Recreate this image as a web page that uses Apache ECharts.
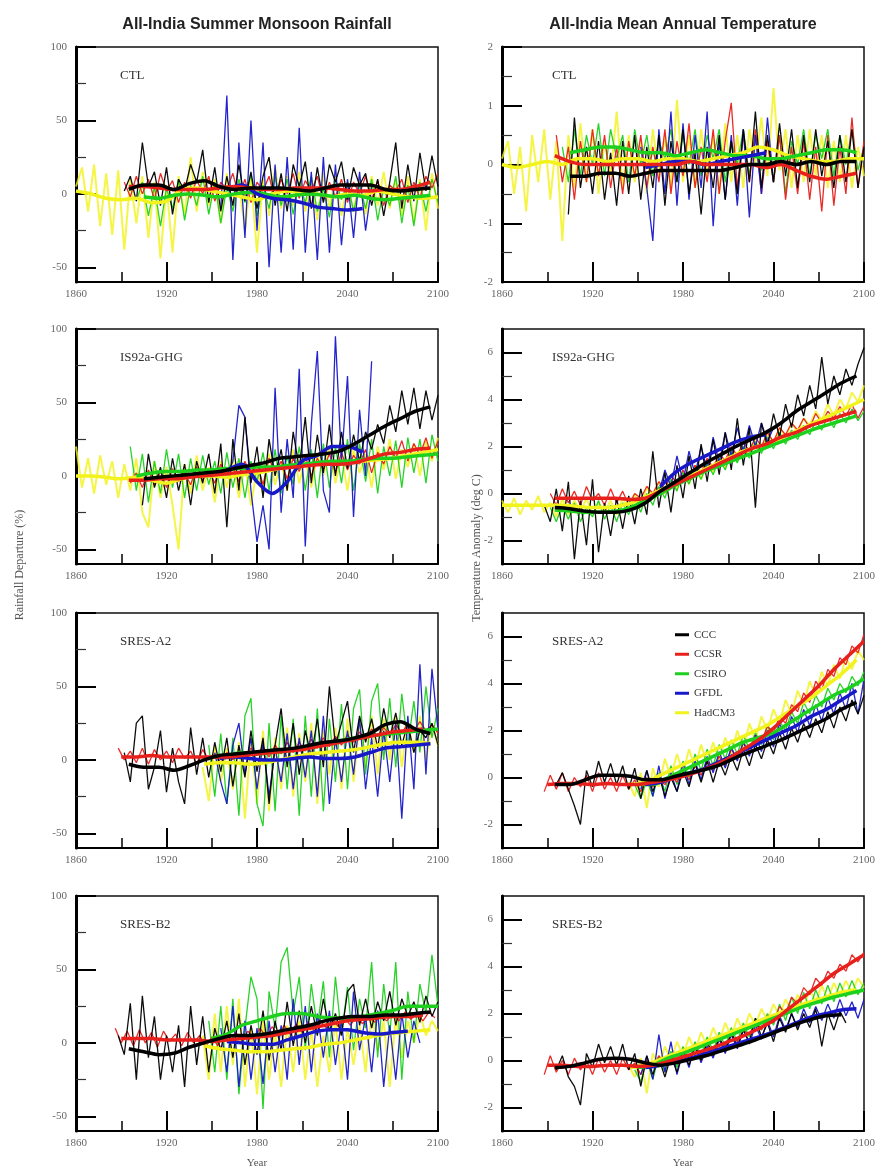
<!DOCTYPE html>
<html lang="en">
<head>
<meta charset="UTF-8">
<title>All-India rainfall and temperature scenarios</title>
<style>
    html, body {
        margin: 0;
        padding: 0;
        background: #fff;
    }
    #chart {
        width: 880px;
        height: 1169px;
    }
</style>
</head>
<body>
<div id="chart"></div>
<script src="https://cdn.jsdelivr.net/npm/echarts@6/dist/echarts.min.js"></script>
<script>
// model order: CCC, CCSR, CSIRO, GFDL, HadCM3
var models = ['CCC', 'CCSR', 'CSIRO', 'GFDL', 'HadCM3'];
var colors = ['#000000', '#e8201c', '#1ed01e', '#1818c8', '#f2f21c'];

var yearTicks = [1860, 1920, 1980, 2040, 2100];
var rainTicks = [-50, 0, 50, 100];
var rainMinorTicks = [-25, 25, 75];
var ctlTempTicks = [-2, -1, 0, 1, 2];
var ctlTempMinorTicks = [-1.5, -0.5, 0.5, 1.5];
var warmTempTicks = [-2, 0, 2, 4, 6];
var warmTempMinorTicks = [-1, 1, 3, 5];

// yearly values are read every 4 years, fitted curves every 10 years
var rawStep = 4;
var fitStep = 10;

// ---- CTL rainfall ----
var ctlRainStart = [1892, 1892, 1900, 1956, 1860];
var ctlRainCCC = [2, 12, -5, 35, 5, 15, -8, 18, -14, 10, 2, 20, 8, 30, -6, 18, -12, 12, -8, 20, -5, 15, -10, 12, 25, -8, 14, -12, 20, 5, 22, -10, 18, -6, 20, 8, 22, -4, 18, 6, 14, -8, 10, -15, 8, 35, -10, 20, -5, 28, 2, 26, 5];
var ctlRainCCSR = [8, -2, 12, 0, 10, -4, 14, 2, 9, -6, 8, -3, 10, 0, 12, -5, 8, 3, 14, -2, 10, -6, 8, 2, 12, -4, 10, 0, 14, -3, 9, 2, 12, -5, 8, -2, 10, -6, 8, 0, 12, -4, 9, -8, 6, 2, 10, -6, 8, -3, 12, 4, 14];
var ctlRainCSIRO = [-5, 8, -15, 5, -22, 4, -10, 10, -18, 6, -8, 12, -14, 8, -20, 5, -12, 10, -6, 14, -15, 6, -10, 12, -8, 10, -14, 8, -6, 12, -12, 4, -16, 10, -4, 8, -12, 6, -10, 10, -18, 4, -8, 12, -20, 6, -22, 8, -12, 10, -6];
var ctlRainGFDL = [-10, 67, -45, 35, -30, 50, -25, 35, -50, 20, -40, 25, -38, 45, -40, 15, -45, 25, -40, 20, -35, 10, -30, 15, -25, 5];
var ctlRainHadCM3 = [5, 18, -12, 20, -22, 14, -28, 16, -38, 10, -20, 12, -30, 8, -44, 6, -40, 12, -15, 25, -12, 15, -8, 10, -20, 14, -10, 8, -25, 12, -40, 10, -15, 18, -10, 12, -8, 15, -12, 10, -18, 14, -10, 12, -15, 8, -12, 10, -14, 12, -8, 15, -10, 10, -15, 12, -20, 10, -25, 14, -10];
var ctlRainFitStart = [1895, 1895, 1905, 1960, 1860];
var ctlRainCCCFit = [3, 6, 6, 3, 7, 9, 5, 3, 4, 4, 4, 3, 2, 4, 6, 6, 6, 3, 2, 3, 4];
var ctlRainCCSRFit = [5, 5, 4, 3, 3, 3, 4, 5, 4, 3, 3, 4, 4, 4, 3, 2, 2, 3, 3, 5, 8];
var ctlRainCSIROFit = [-2, -3, -1, 0, -1, -2, 0, 1, 0, -2, -1, 0, -1, -2, -1, -3, -4, -3, -2, -1];
var ctlRainGFDLFit = [3, 6, 0, -3, -4, -6, -9, -10, -11, -10];
var ctlRainHadCM3Fit = [2, 0, -3, -4, -3, -6, -5, 3, 4, 2, 0, -2, -4, 0, 2, 1, 0, -2, 0, -1, 2, 0, -2, -3, -2];

// ---- CTL temperature ----
var ctlTempStart = [1904, 1896, 1900, 1952, 1860];
var ctlTempCCC = [-0.85, 0.8, -0.4, 0.3, -0.5, 0.4, -0.6, 0.2, -0.7, 0.4, -0.5, 0.5, -0.6, 0.3, -0.4, 0.5, -0.7, 0.4, -0.3, 0.6, -0.5, 0.2, -0.85, 0.3, -0.4, 0.5, -0.6, 0.4, -0.5, 0.6, -0.3, 0.9, -0.4, 0.5, -0.3, 0.7, -0.2, 0.6, -0.4, 0.5, -0.3, 0.6, -0.2, 0.4, -0.4, 0.5, -0.3, 0.6, -0.4, 0.3];
var ctlTempCCSR = [0.5, -0.3, 0.3, -0.6, 0.4, -0.3, 0.6, -0.2, 0.5, -0.4, 0.3, -0.5, 0.4, -0.2, 0.5, -0.4, 0.3, -0.3, 0.6, -0.5, 0.4, -0.2, 0.7, -0.4, 0.3, -0.3, 0.6, -0.5, 0.4, 1.05, -0.4, 0.5, -0.3, 0.6, -0.5, 0.4, -0.3, 0.5, -0.6, 0.3, -0.5, 0.4, -0.6, 0.3, -0.8, 0.5, -0.7, 0.3, -0.5, 0.8, -0.4, 0.4];
var ctlTempCSIRO = [0.3, -0.3, 0.6, -0.2, 0.5, 0.0, 0.7, -0.2, 0.6, 0.1, 0.5, -0.3, 0.6, 0.0, 0.5, -0.2, 0.4, 0.1, 0.6, -0.3, 0.5, 0.0, 0.6, -0.2, 0.5, 0.1, 0.6, -0.3, 0.4, 0.0, 0.6, -0.2, 0.5, -0.1, 0.4, -0.3, 0.5, -0.5, 0.4, 0.0, 0.6, -0.2, 0.5, 0.1, 0.6, -0.2, 0.5, 0.0, 0.6, -0.1, 0.3];
var ctlTempGFDL = [0.3, -0.4, -1.3, 0.6, -0.5, 0.9, -0.7, 0.7, -0.6, 0.5, -0.4, 0.9, -1.05, 0.4, -0.6, 0.5, -0.7, 0.6, -0.9, 0.5, -0.5, 0.8, -0.3];
var ctlTempHadCM3 = [0.1, 0.4, -0.5, 0.3, -0.8, 0.5, -0.3, 0.6, -0.6, 0.4, -1.3, 0.5, -0.4, 0.7, -0.3, 0.6, -0.5, 0.4, -0.2, 0.9, -0.4, 0.5, -0.3, 0.4, -0.5, 0.6, -0.2, 0.5, -0.4, 1.1, -0.3, 0.5, -0.4, 0.6, -0.2, 0.5, -0.5, 0.7, -0.3, 0.5, -0.4, 0.6, 0.0, 0.8, -0.2, 1.3, -0.1, 0.6, -0.4, 0.5, -0.3, 0.6, -0.2, 0.5, -0.4, 0.4, -0.3, 0.5, -0.4, 0.3, -0.2];
var ctlTempFitStart = [1905, 1895, 1905, 1955, 1860];
var ctlTempCCCFit = [-0.2, -0.2, -0.15, -0.15, -0.2, -0.15, -0.1, -0.1, -0.1, -0.1, -0.1, -0.05, 0.0, 0.0, 0.05, 0.0, 0.05, 0.0, 0.05, 0.05];
var ctlTempCCSRFit = [0.15, 0.05, 0, 0, 0, 0, 0, 0, 0, 0.05, 0, 0, 0, 0, -0.05, 0, -0.1, -0.2, -0.25, -0.2, -0.15];
var ctlTempCSIROFit = [0.2, 0.25, 0.3, 0.3, 0.25, 0.2, 0.2, 0.15, 0.2, 0.25, 0.2, 0.15, 0.15, 0.1, 0.1, 0.15, 0.2, 0.25, 0.25, 0.2];
var ctlTempGFDLFit = [-0.05, 0, 0.05, 0.05, 0, 0.05, 0.1, 0.15, 0.2];
var ctlTempHadCM3Fit = [0, -0.05, 0, 0.05, 0, 0.1, 0.1, 0.05, 0.1, 0.1, 0.05, 0.1, 0.1, 0.05, 0.1, 0.15, 0.2, 0.3, 0.25, 0.15, 0.1, 0.05, 0.05, 0.1, 0.1];

// ---- IS92a-GHG rainfall ----
var ghgRainStart = [1904, 1896, 1896, 1960, 1860];
var ghgRainCCC = [-20, 15, -8, 6, -15, 12, -10, 8, -20, 10, -5, 15, -12, 22, -35, 25, -10, 40, -5, 20, -15, 25, 0, 18, -10, 30, 5, 40, -5, 28, 2, 35, 0, 30, 5, 28, 10, 30, 18, 35, 22, 48, 30, 58, 35, 60, 32, 58, 38, 55];
var ghgRainCCSR = [-5, 2, -8, 4, -6, 3, -8, 5, -4, 2, -6, 6, -3, 4, -5, 8, -2, 6, -4, 10, 0, 8, -6, 12, 2, 10, -2, 12, 3, 14, 0, 12, 4, 15, 2, 16, 4, 14, 8, 18, 2, 16, 8, 20, 12, 24, 10, 22, 14, 26, 12, 24];
var ghgRainCSIRO = [20, -10, 15, -18, 10, -12, 18, -8, 15, -15, 12, -10, 14, -6, 10, -12, 16, -8, 12, -15, 10, -4, 16, -10, 18, -12, 14, -6, 20, -10, 18, -15, 22, -8, 20, -5, 25, -10, 22, -4, 25, -12, 20, 0, 24, -8, 26, 2, 25, -5, 28, 10];
var ghgRainGFDL = [0, 10, 48, 40, -10, -45, -20, -50, 60, -25, 25, -15, 73, -48, 35, 85, -10, -25, 95, 10, 68, -28, 45, 0, 78];
var ghgRainHadCM3 = [20, -8, 12, -12, 14, -6, 10, -15, 8, -10, 12, -25, -35, 10, -15, 6, -20, -50, 8, -12, 14, -10, 6, -18, 10, -8, 12, -15, 8, -20, 5, -12, 15, -6, 10, -10, 18, -5, 12, -8, 15, 0, 20, -5, 14, -10, 18, 2, 15, -8, 20, 4, 25, -2, 18, 6, 22, 0, 24, 10, 26];
var ghgRainFitStart = [1905, 1895, 1900, 1960, 1860];
var ghgRainCCCFit = [-2, -1, 0, 1, 2, 3, 5, 7, 9, 12, 13, 14, 15, 17, 22, 28, 34, 39, 44, 47];
var ghgRainCCSRFit = [-3, -3, -2, -2, -1, 0, 1, 2, 3, 4, 5, 6, 7, 8, 8, 9, 12, 15, 16, 18, 19];
var ghgRainCSIROFit = [0, 2, 3, 3, 4, 4, 5, 5, 6, 6, 7, 8, 9, 10, 10, 11, 12, 12, 13, 14, 15];
var ghgRainGFDLFit = [4, 8, -4, -12, -4, 10, 14, 20, 20, 16];
var ghgRainHadCM3Fit = [0, 0, -1, -2, -1, -3, -5, -2, 0, 0, -1, 1, 2, 4, 6, 7, 8, 9, 9, 10, 11, 12, 14, 16, 18];

// ---- IS92a-GHG temperature ----
var ghgTempStart = [1888, 1892, 1892, 1964, 1860];
var ghgTempCCC = [-0.5, -1.2, 0.2, -1.6, 0.5, -2.8, -0.3, -2.2, 0.6, -2.5, -0.4, -1.8, -0.2, -1.5, -0.1, -1.3, 0.2, -0.9, 1.8, -0.6, 0.9, -0.8, 1.2, -0.2, 1.6, 0.2, 2.1, 0.5, 2.3, 0.8, 2.6, 1.0, 3.2, 1.2, 2.8, -0.6, 3.0, 2.0, 3.4, 2.4, 3.8, 2.8, 4.2, 3.3, 4.6, 3.6, 5.8, 3.8, 5.0, 4.2, 5.3, 4.6, 5.5, 6.2];
var ghgTempCCSR = [0.0, -0.5, 0.2, -0.4, 0.1, -0.5, 0.3, -0.3, 0.0, -0.5, 0.2, -0.4, 0.1, -0.5, 0.0, -0.2, 0.3, 0.0, 0.5, 0.2, 0.8, 0.4, 1.0, 0.6, 1.2, 0.9, 1.5, 1.1, 1.7, 1.4, 2.0, 1.6, 2.2, 1.8, 2.4, 2.0, 2.6, 2.2, 2.8, 2.5, 3.0, 2.7, 3.2, 2.8, 3.4, 3.0, 3.5, 3.2, 3.7, 3.3, 3.8, 3.2, 3.7];
var ghgTempCSIRO = [-0.6, -1.2, -0.5, -1.1, -0.4, -1.2, -0.6, -1.0, -0.3, -1.1, -0.5, -1.2, -0.4, -0.9, -0.2, -0.8, 0.0, -0.5, 0.3, -0.2, 0.6, 0.1, 0.9, 0.4, 1.1, 0.6, 1.3, 0.8, 1.5, 1.0, 1.8, 1.3, 2.0, 1.5, 2.2, 1.7, 2.4, 1.9, 2.6, 2.1, 2.7, 2.3, 2.9, 2.5, 3.1, 2.7, 3.3, 2.8, 3.4, 3.0, 3.6, 3.1, 3.5];
var ghgTempGFDL = [0.0, 1.0, 0.3, 1.6, 0.5, 1.8, 0.8, 2.0, 1.0, 2.4, 1.3, 2.6, 1.6, 2.8, 1.8, 2.9, 2.0, 3.0, 2.2, 2.8];
var ghgTempHadCM3 = [-0.3, -0.8, -0.2, -0.9, -0.3, -0.7, -0.1, -0.8, -0.4, -1.0, -0.2, -0.9, -0.3, -0.8, -0.2, -0.9, -0.4, -0.8, -0.3, -0.9, -0.2, -0.7, 0.0, -0.6, 0.3, -0.2, 0.5, 0.0, 0.6, 0.2, 0.9, 0.4, 1.2, 0.6, 1.3, 0.9, 1.6, 1.1, 1.8, 1.4, 2.0, 1.6, 2.3, 1.8, 2.5, 2.1, 2.8, 2.4, 3.0, 2.6, 3.2, 2.9, 3.5, 3.1, 3.8, 3.3, 4.0, 3.6, 4.3, 3.9, 4.6];
var ghgTempFitStart = [1895, 1895, 1895, 1965, 1860];
var ghgTempCCCFit = [-0.6, -0.65, -0.75, -0.8, -0.8, -0.7, -0.4, 0.1, 0.5, 0.9, 1.3, 1.65, 2.0, 2.3, 2.6, 3.0, 3.5, 3.9, 4.3, 4.7, 5.0];
var ghgTempCCSRFit = [-0.2, -0.2, -0.2, -0.2, -0.2, -0.25, -0.2, 0.1, 0.4, 0.7, 1.0, 1.3, 1.6, 1.9, 2.1, 2.4, 2.6, 2.9, 3.1, 3.3, 3.5];
var ghgTempCSIROFit = [-0.7, -0.75, -0.8, -0.8, -0.75, -0.6, -0.3, 0.0, 0.35, 0.65, 0.95, 1.2, 1.45, 1.7, 1.95, 2.2, 2.45, 2.7, 2.9, 3.1, 3.3];
var ghgTempGFDLFit = [0.3, 0.9, 1.3, 1.6, 1.9, 2.2, 2.4, 2.5];
var ghgTempHadCM3Fit = [-0.5, -0.5, -0.5, -0.5, -0.5, -0.55, -0.6, -0.6, -0.5, -0.3, 0.0, 0.3, 0.6, 0.9, 1.2, 1.5, 1.8, 2.0, 2.2, 2.5, 2.8, 3.1, 3.4, 3.7, 4.0];

// ---- SRES-A2 rainfall ----
var a2RainStart = [1892, 1888, 1948, 1952, 1944];
var a2RainCCC = [5, -15, 25, 30, -20, -5, 20, -22, 8, -15, -30, 22, -10, 15, -12, 12, -8, 15, -18, 10, -12, 20, -8, 15, -30, 10, 35, -5, 25, -10, 20, 2, 28, -5, 50, 10, 25, 40, 5, 30, 12, 28, 8, 35, 15, 32, 10, 25, 5, 20, 15, 25, 10];
var a2RainCCSR = [8, 0, 6, -2, 8, -3, 7, 0, 6, -2, 8, 1, 6, -3, 7, 0, 4, -2, 5, 0, 6, 2, 8, 3, 9, 2, 10, 4, 12, 5, 12, 6, 14, 8, 15, 9, 16, 10, 17, 12, 19, 14, 21, 16, 22, 17, 24, 18, 25, 20, 26, 20, 24, 18];
var a2RainCSIRO = [10, -25, 18, -30, 15, -38, 30, 42, -30, -45, 25, -35, 30, -20, 28, -38, 30, -25, 35, -35, 28, -15, 38, -20, 35, 48, -10, 40, 52, 0, 42, -5, 45, 10, 40, 5, 50, 15, 35];
var a2RainGFDL = [5, -15, -30, 10, 25, -10, 15, -20, 12, -25, 8, -15, 18, -20, 15, -12, 20, -25, 30, -30, 15, -15, 20, -10, 28, -20, 15, -25, 20, -15, 25, -40, 30, -20, 65, -10, 62, 20];
var a2RainHadCM3 = [-5, -28, 10, -15, 8, -20, 12, -40, 15, -30, 20, -35, 15, -20, 22, -25, 18, -15, 25, -30, 20, -10, 22, -20, 28, -15, 25, -5, 30, -10, 28, 0, 30, -5, 25, 5, 30, 0, 25, 10];
var a2RainFitStart = [1895, 1890, 1950, 1955, 1945];
var a2RainCCCFit = [-3, -5, -5, -7, -4, 0, 3, 4, 5, 6, 7, 8, 10, 12, 13, 15, 18, 24, 26, 21, 18];
var a2RainCCSRFit = [2, 2, 3, 2, 2, 2, 2, 2, 3, 4, 5, 6, 7, 9, 11, 13, 15, 17, 19, 20, 21];
var a2RainCSIROFit = [2, 3, 5, 4, 5, 6, 8, 10, 12, 14, 16, 17, 18, 19, 20, 21];
var a2RainGFDLFit = [1, 2, 1, 0, 0, 1, 2, 1, 1, 2, 5, 8, 9, 10, 11];
var a2RainHadCM3Fit = [-3, -2, -2, -3, -2, 0, 2, 4, 5, 6, 7, 9, 11, 12, 12, 11];

// ---- SRES-A2 temperature ----
var a2TempStart = [1896, 1888, 1948, 1952, 1944];
var a2TempCCC = [-0.3, 0.2, -0.5, -1.2, -2.0, 0.3, -0.4, 0.7, -0.2, 0.6, -0.3, 0.5, -0.5, 0.4, -0.9, 0.3, -0.6, 0.1, -0.8, 0.0, -0.6, 0.3, -0.4, 0.6, -0.2, 0.7, -0.2, 0.7, 0.1, 0.9, 0.3, 1.2, 0.5, 1.4, 0.8, 1.6, 1.0, 1.9, 1.2, 2.1, 1.5, 2.3, 1.7, 2.5, 1.9, 2.8, 2.1, 3.0, 2.4, 3.3, 2.7, 3.5];
var a2TempCCSR = [-0.6, 0.1, -0.5, 0.2, -0.6, 0.0, -0.4, 0.1, -0.6, 0.2, -0.5, 0.0, -0.6, 0.1, -0.5, -0.1, -0.6, 0.0, -0.4, -0.1, -0.3, 0.1, -0.2, 0.3, -0.1, 0.5, 0.1, 0.7, 0.3, 0.9, 0.5, 1.2, 0.8, 1.5, 1.1, 1.8, 1.5, 2.2, 1.9, 2.6, 2.3, 3.1, 2.8, 3.6, 3.2, 4.1, 3.7, 4.6, 4.3, 5.1, 4.8, 5.6, 5.3, 6.1];
var a2TempCSIRO = [-0.3, -0.9, -0.1, -0.8, 0.2, -0.6, 0.5, -0.3, 0.7, 0.0, 1.0, 0.3, 1.2, 0.5, 1.4, 0.8, 1.6, 1.0, 1.8, 1.2, 1.9, 1.4, 2.2, 1.6, 2.4, 2.0, 2.8, 2.3, 3.2, 2.7, 3.5, 3.0, 3.8, 3.3, 4.0, 3.6, 4.3, 3.9, 4.5];
var a2TempGFDL = [-0.5, 0.3, -0.8, 0.5, -0.9, 0.2, -0.6, 0.6, -0.3, 0.7, -0.1, 0.9, 0.2, 1.1, 0.4, 1.3, 0.7, 1.5, 0.9, 1.8, 1.1, 2.0, 1.3, 2.3, 1.6, 2.6, 1.9, 2.9, 2.2, 3.1, 2.4, 3.4, 2.7, 3.6, 2.9, 4.0, 2.7, 4.2];
var a2TempHadCM3 = [-0.2, -0.8, 0.2, -1.3, 0.4, -0.4, 0.8, 0.0, 1.0, 0.2, 1.2, 0.4, 1.4, 0.6, 1.5, 0.7, 1.7, 1.0, 2.0, 1.2, 2.3, 1.6, 2.6, 2.0, 2.9, 2.3, 3.3, 2.7, 3.7, 3.1, 4.1, 3.5, 4.5, 3.9, 4.8, 4.2, 5.1, 4.6, 5.4, 5.0];
var a2TempFitStart = [1895, 1890, 1950, 1955, 1945];
var a2TempCCCFit = [-0.3, -0.3, -0.1, 0.1, 0.1, 0.05, -0.1, -0.1, 0.05, 0.2, 0.35, 0.55, 0.85, 1.1, 1.35, 1.6, 1.9, 2.2, 2.5, 2.9, 3.2];
var a2TempCCSRFit = [-0.3, -0.25, -0.25, -0.3, -0.25, -0.3, -0.3, -0.2, -0.1, 0.05, 0.25, 0.5, 0.8, 1.2, 1.6, 2.1, 2.7, 3.3, 3.9, 4.6, 5.2, 5.8];
var a2TempCSIROFit = [-0.3, -0.3, 0.0, 0.3, 0.6, 0.9, 1.2, 1.5, 1.7, 1.9, 2.3, 2.7, 3.1, 3.5, 3.8, 4.2];
var a2TempGFDLFit = [-0.3, -0.2, 0.0, 0.2, 0.4, 0.7, 1.0, 1.3, 1.6, 1.9, 2.2, 2.6, 2.9, 3.3, 3.7];
var a2TempHadCM3Fit = [-0.3, -0.2, 0.1, 0.4, 0.7, 1.0, 1.3, 1.6, 1.9, 2.2, 2.6, 3.0, 3.4, 3.9, 4.4, 5.0];

// ---- SRES-B2 rainfall ----
var b2RainStart = [1888, 1886, 1948, 1956, 1944];
var b2RainCCC = [5, -8, 27, -25, 32, -10, 18, -25, 5, -20, 12, -30, 25, -15, 18, -20, 10, -5, 15, -10, 20, -15, 12, -8, 22, -12, 15, -5, 28, -2, 22, 0, 25, 5, 30, 8, 20, 5, 35, 40, 12, 30, 10, 28, 15, 35, 12, 30, 18, 28, 14, 32, 18, 28];
var b2RainCCSR = [10, 0, 8, -2, 9, 0, 7, -3, 8, 1, 6, -2, 7, 0, 5, -3, 4, -2, 6, 0, 7, 2, 8, 3, 10, 4, 11, 5, 12, 6, 13, 7, 14, 8, 15, 10, 16, 11, 17, 12, 18, 13, 18, 14, 19, 15, 20, 15, 21, 16, 20, 15, 21, 17];
var b2RainCSIRO = [15, -20, 25, -25, 30, -35, 10, 45, 30, -45, 35, 10, 55, 65, 20, 45, -5, 40, 10, 42, -10, 45, 5, 38, -5, 30, 10, 55, -10, 40, 5, 55, -25, 35, 0, 40, 20, 60, 25];
var b2RainGFDL = [10, -20, 25, -30, 15, -25, 10, -28, 15, -20, 12, -25, 30, -15, 25, -20, 20, -10, 22, -15, 15, -25, 35, -5, 18, -20, 22, -30, 12, -25, 20, -10, 15, 0];
var b2RainHadCM3 = [5, -25, 20, -20, 25, -15, 30, -30, 10, -35, 15, -25, 8, -30, 12, -20, 15, -25, 10, -30, 5, -20, 15, -25, 10, -15, 12, -20, 20, -5, 15, -30, 18, -10, 15, 0, 20, 5, 15, 8];
var b2RainFitStart = [1895, 1890, 1950, 1960, 1945];
var b2RainCCCFit = [-4, -6, -8, -7, -3, 0, 3, 5, 5, 6, 8, 10, 12, 15, 17, 18, 18, 19, 19, 20, 21];
var b2RainCCSRFit = [3, 3, 3, 2, 2, 2, 1, 2, 3, 4, 5, 7, 9, 11, 13, 15, 16, 17, 18, 18, 19];
var b2RainCSIROFit = [3, 6, 12, 15, 18, 20, 20, 18, 17, 17, 18, 20, 22, 25, 25, 25];
var b2RainGFDLFit = [1, 0, -1, -1, 2, 5, 8, 9, 9, 7, 6, 7, 8];
var b2RainHadCM3Fit = [-2, -4, -5, -6, -6, -5, -4, -3, -1, 0, 2, 4, 6, 7, 8, 9];

// ---- SRES-B2 temperature ----
var b2TempStart = [1896, 1888, 1948, 1952, 1944];
var b2TempCCC = [-0.4, 0.2, -0.7, -1.1, -1.9, 0.3, -0.3, 0.7, -0.1, 0.6, -0.2, 0.7, -0.4, 0.3, -1.1, 0.2, -0.6, 0.1, -0.7, 0.2, -0.5, 0.4, -0.2, 0.6, 0.0, 0.8, 0.2, 1.0, 0.4, 1.2, 0.6, 1.3, 0.8, 1.8, 1.0, 1.6, 0.8, 1.8, 1.2, 2.0, 1.3, 2.0, 1.4, 2.2, 0.6, 2.0, 1.3, 2.1, 1.6];
var b2TempCCSR = [-0.6, 0.2, -0.5, 0.0, -0.6, 0.1, -0.4, 0.0, -0.6, 0.1, -0.5, 0.0, -0.6, 0.1, -0.4, -0.1, -0.6, 0.0, -0.3, 0.2, -0.1, 0.2, -0.1, 0.4, 0.1, 0.5, 0.2, 0.7, 0.4, 0.9, 0.6, 1.1, 0.8, 1.3, 1.1, 1.6, 1.3, 1.9, 1.6, 2.3, 2.0, 2.7, 2.4, 3.1, 2.8, 3.5, 3.2, 3.8, 3.5, 4.1, 3.8, 4.5, 4.2, 4.6];
var b2TempCSIRO = [-0.4, -0.9, 0.0, -0.8, 0.2, -0.5, 0.4, -0.3, 0.6, 0.0, 0.8, 0.2, 1.0, 0.4, 1.2, 0.6, 1.4, 0.8, 1.6, 1.0, 1.8, 1.3, 2.0, 1.5, 2.4, 1.7, 2.7, 2.0, 2.9, 2.2, 3.0, 2.4, 3.2, 2.5, 3.3, 2.7, 3.4, 2.8, 3.3];
var b2TempGFDL = [-0.6, 0.2, -0.8, 1.1, -0.5, 0.8, -0.6, 0.4, -0.3, 0.7, -0.1, 0.6, 0.1, 0.9, 0.3, 1.1, 0.5, 1.3, 0.7, 1.5, 0.9, 1.7, 1.0, 1.9, 1.3, 2.0, 1.4, 2.2, 1.6, 2.3, 1.7, 2.4, 1.8, 2.6, 1.9, 2.5, 1.8, 2.6];
var b2TempHadCM3 = [-0.2, -0.7, 0.1, -1.4, 0.3, -0.3, 0.6, 0.0, 0.8, 0.2, 1.0, 0.4, 1.2, 0.6, 1.4, 0.8, 1.6, 1.0, 1.8, 1.2, 2.0, 1.5, 2.2, 1.7, 2.4, 1.9, 2.6, 2.1, 2.8, 2.3, 3.0, 2.5, 3.2, 2.6, 3.3, 2.8, 3.4, 2.9, 3.5, 3.1];
var b2TempFitStart = [1895, 1890, 1950, 1955, 1945];
var b2TempCCCFit = [-0.3, -0.25, -0.1, 0.05, 0.1, 0.05, -0.1, -0.2, -0.1, 0.05, 0.2, 0.4, 0.6, 0.8, 1.05, 1.3, 1.55, 1.75, 1.9, 1.95];
var b2TempCCSRFit = [-0.2, -0.2, -0.25, -0.25, -0.2, -0.2, -0.25, -0.2, -0.05, 0.15, 0.35, 0.55, 0.8, 1.05, 1.35, 1.7, 2.2, 2.7, 3.2, 3.7, 4.1, 4.5];
var b2TempCSIROFit = [-0.3, -0.2, 0.1, 0.3, 0.55, 0.8, 1.05, 1.3, 1.55, 1.8, 2.05, 2.3, 2.5, 2.7, 2.85, 3.0];
var b2TempGFDLFit = [-0.3, -0.2, -0.05, 0.1, 0.3, 0.5, 0.7, 0.9, 1.1, 1.35, 1.6, 1.85, 2.0, 2.15, 2.2];
var b2TempHadCM3Fit = [-0.3, -0.2, 0.05, 0.3, 0.55, 0.8, 1.05, 1.3, 1.55, 1.8, 2.05, 2.3, 2.5, 2.7, 2.9, 3.0];

var panels = [
    {label: 'CTL', kind: 'rain', col: 0, row: 0, start: ctlRainStart, fitStart: ctlRainFitStart,
        raw: [ctlRainCCC, ctlRainCCSR, ctlRainCSIRO, ctlRainGFDL, ctlRainHadCM3],
        fit: [ctlRainCCCFit, ctlRainCCSRFit, ctlRainCSIROFit, ctlRainGFDLFit, ctlRainHadCM3Fit]},
    {label: 'CTL', kind: 'ctlTemp', col: 1, row: 0, start: ctlTempStart, fitStart: ctlTempFitStart,
        raw: [ctlTempCCC, ctlTempCCSR, ctlTempCSIRO, ctlTempGFDL, ctlTempHadCM3],
        fit: [ctlTempCCCFit, ctlTempCCSRFit, ctlTempCSIROFit, ctlTempGFDLFit, ctlTempHadCM3Fit]},
    {label: 'IS92a-GHG', kind: 'rain', col: 0, row: 1, start: ghgRainStart, fitStart: ghgRainFitStart,
        raw: [ghgRainCCC, ghgRainCCSR, ghgRainCSIRO, ghgRainGFDL, ghgRainHadCM3],
        fit: [ghgRainCCCFit, ghgRainCCSRFit, ghgRainCSIROFit, ghgRainGFDLFit, ghgRainHadCM3Fit]},
    {label: 'IS92a-GHG', kind: 'temp', col: 1, row: 1, start: ghgTempStart, fitStart: ghgTempFitStart,
        raw: [ghgTempCCC, ghgTempCCSR, ghgTempCSIRO, ghgTempGFDL, ghgTempHadCM3],
        fit: [ghgTempCCCFit, ghgTempCCSRFit, ghgTempCSIROFit, ghgTempGFDLFit, ghgTempHadCM3Fit]},
    {label: 'SRES-A2', kind: 'rain', col: 0, row: 2, start: a2RainStart, fitStart: a2RainFitStart,
        raw: [a2RainCCC, a2RainCCSR, a2RainCSIRO, a2RainGFDL, a2RainHadCM3],
        fit: [a2RainCCCFit, a2RainCCSRFit, a2RainCSIROFit, a2RainGFDLFit, a2RainHadCM3Fit]},
    {label: 'SRES-A2', kind: 'temp', col: 1, row: 2, start: a2TempStart, fitStart: a2TempFitStart,
        raw: [a2TempCCC, a2TempCCSR, a2TempCSIRO, a2TempGFDL, a2TempHadCM3],
        fit: [a2TempCCCFit, a2TempCCSRFit, a2TempCSIROFit, a2TempGFDLFit, a2TempHadCM3Fit]},
    {label: 'SRES-B2', kind: 'rain', col: 0, row: 3, start: b2RainStart, fitStart: b2RainFitStart,
        raw: [b2RainCCC, b2RainCCSR, b2RainCSIRO, b2RainGFDL, b2RainHadCM3],
        fit: [b2RainCCCFit, b2RainCCSRFit, b2RainCSIROFit, b2RainGFDLFit, b2RainHadCM3Fit]},
    {label: 'SRES-B2', kind: 'temp', col: 1, row: 3, start: b2TempStart, fitStart: b2TempFitStart,
        raw: [b2TempCCC, b2TempCCSR, b2TempCSIRO, b2TempGFDL, b2TempHadCM3],
        fit: [b2TempCCCFit, b2TempCCSRFit, b2TempCSIROFit, b2TempGFDLFit, b2TempHadCM3Fit]}
];

var axisKinds = {
    rain: {min: -60, max: 100, major: rainTicks, minor: rainMinorTicks},
    ctlTemp: {min: -2, max: 2, major: ctlTempTicks, minor: ctlTempMinorTicks},
    temp: {min: -3, max: 7, major: warmTempTicks, minor: warmTempMinorTicks}
};

// layout of the 4 x 2 panels
var colLeft = [76, 502];
var rowTop = [47, 329, 613, 896];
var plotW = 362;
var plotH = 235;
var serif = "'Liberation Serif', 'DejaVu Serif', serif";

function pairs(start, step, values) {
    return values.map(function (v, i) {
        return [start + i * step, v];
    });
}

var grids = [], xAxes = [], yAxes = [], series = [], graphics = [];
var rawOrder = [4, 2, 1, 3, 0];
var fitOrder = [4, 2, 3, 1, 0];

panels.forEach(function (p, g) {
    var ax = axisKinds[p.kind];
    grids.push({
        left: colLeft[p.col], top: rowTop[p.row], width: plotW, height: plotH,
        show: true, borderColor: '#111', borderWidth: 1.5
    });
    xAxes.push({
        gridIndex: g, type: 'value', min: 1860, max: 2100, interval: 60,
        axisLine: {onZero: false, lineStyle: {color: '#000', width: 2}},
        axisTick: {inside: true, length: 20, lineStyle: {color: '#000', width: 2}},
        minorTick: {show: true, splitNumber: 2, length: 10, lineStyle: {color: '#000', width: 1.5}},
        axisLabel: {
            color: '#666', fontFamily: serif, fontSize: 11, margin: 7,
            showMinLabel: true, showMaxLabel: true,
            formatter: function (v) { return String(v); }
        },
        splitLine: {show: false}
    });
    yAxes.push({
        gridIndex: g, type: 'value', position: 'left', min: ax.min, max: ax.max,
        axisLine: {show: true, onZero: false, lineStyle: {color: '#000', width: 3}},
        axisTick: {show: true, inside: true, length: 20, customValues: ax.major, lineStyle: {color: '#000', width: 2}},
        axisLabel: {customValues: ax.major, color: '#666', fontFamily: serif, fontSize: 11, margin: 9},
        splitLine: {show: false}
    });
    yAxes.push({
        gridIndex: g, type: 'value', position: 'left', min: ax.min, max: ax.max,
        axisLine: {show: false, onZero: false},
        axisTick: {show: true, inside: true, length: 10, customValues: ax.minor, lineStyle: {color: '#333', width: 1.2}},
        axisLabel: {show: false},
        splitLine: {show: false}
    });

    rawOrder.forEach(function (m) {
        series.push({
            name: models[m], type: 'line', xAxisIndex: g, yAxisIndex: 2 * g,
            showSymbol: false, symbol: 'none', silent: true,
            color: colors[m],
            lineStyle: {color: colors[m], width: m === 4 ? 2 : 1.3, opacity: m === 4 ? 0.8 : 0.95},
            data: pairs(p.start[m], rawStep, p.raw[m])
        });
    });
    fitOrder.forEach(function (m) {
        series.push({
            name: models[m], type: 'line', xAxisIndex: g, yAxisIndex: 2 * g,
            showSymbol: false, symbol: 'none', silent: true, smooth: 0.3,
            color: colors[m],
            lineStyle: {color: colors[m], width: 3.5},
            data: pairs(p.fitStart[m], fitStep, p.fit[m])
        });
    });

    graphics.push({
        type: 'text', left: colLeft[p.col] + (p.col === 0 ? 44 : 50), top: rowTop[p.row] + 22,
        style: {text: p.label, font: '13px ' + serif, fill: '#333'}
    });
});

var titleFont = "bold 16px 'Liberation Sans', Arial, sans-serif";
graphics.push(
    {type: 'text', x: 257, y: 25, style: {text: 'All-India Summer Monsoon Rainfall', font: titleFont, fill: '#222', align: 'center', verticalAlign: 'middle'}},
    {type: 'text', x: 683, y: 25, style: {text: 'All-India Mean Annual Temperature', font: titleFont, fill: '#222', align: 'center', verticalAlign: 'middle'}},
    {type: 'text', x: 20, y: 565, rotation: Math.PI / 2, style: {text: 'Rainfall Departure (%)', font: '12px ' + serif, fill: '#555', align: 'center', verticalAlign: 'middle'}},
    {type: 'text', x: 477, y: 548, rotation: Math.PI / 2, style: {text: 'Temperature Anomaly (deg C)', font: '12px ' + serif, fill: '#555', align: 'center', verticalAlign: 'middle'}},
    {type: 'text', x: 257, y: 1163, style: {text: 'Year', font: '11px ' + serif, fill: '#555', align: 'center', verticalAlign: 'middle'}},
    {type: 'text', x: 683, y: 1163, style: {text: 'Year', font: '11px ' + serif, fill: '#555', align: 'center', verticalAlign: 'middle'}}
);

var option = {
    animation: false,
    backgroundColor: '#fff',
    grid: grids,
    xAxis: xAxes,
    yAxis: yAxes,
    legend: {
        data: models.map(function (name, i) {
            return {name: name, itemStyle: {color: colors[i]}};
        }),
        orient: 'vertical', left: 670, top: 620,
        icon: 'rect', itemWidth: 14, itemHeight: 3, itemGap: 0,
        selectedMode: false,
        textStyle: {fontFamily: serif, fontSize: 11, color: '#333', lineHeight: 19.5}
    },
    graphic: graphics,
    series: series
};

var chart = echarts.init(document.getElementById('chart'));
chart.setOption(option);
</script>
</body>
</html>
